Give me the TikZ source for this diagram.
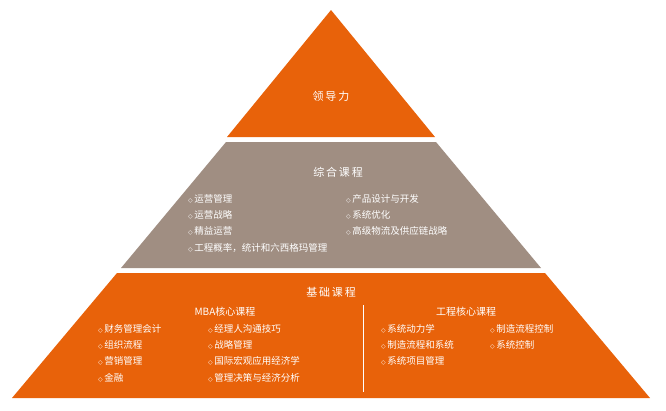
\documentclass[tikz,border=0pt]{standalone}
\usepackage{fontspec}
\setmainfont{Noto Sans CJK SC}
\newfontfamily\djvfont{DejaVu Sans}
\definecolor{org}{HTML}{E8620A}
\definecolor{gry}{HTML}{A08E82}
\newcommand{\dm}{{\djvfont\fontsize{6}{6}\selectfont ◇}\,}
\begin{document}
\begin{tikzpicture}[x=1pt,y=-1pt,
  lst/.style={anchor=north west,align=left,text=white,font=\fontsize{9.5}{16.3}\selectfont,inner sep=0pt},
  ttl/.style={text=white,font=\fontsize{11}{13}\selectfont},
  sub/.style={text=white,font=\fontsize{10}{12}\selectfont}]
\useasboundingbox (0,0) rectangle (666,410);
\fill[org] (331,10) -- (435,137) -- (227,137) -- cycle;
\fill[gry] (226,142) -- (436,142) -- (541,268) -- (121,268) -- cycle;
\fill[org] (117,273) -- (545,273) -- (650,398) -- (12,398) -- cycle;
\node[ttl] (lead) at (331,96) {领\,导\,力};
\node[ttl] (zh) at (338,172) {综\,合\,课\,程};
\node[lst] (zl) at (188,194) {\dm 运营管理\\\dm 运营战略\\\dm 精益运营\\\dm 工程概率，统计和六西格玛管理};
\node[lst] (zr) at (346,194) {\dm 产品设计与开发\\\dm 系统优化\\\dm 高级物流及供应链战略};
\node[ttl] (jc) at (331,292) {基\,础\,课\,程};
\node[sub] (mba) at (225,312) {MBA核心课程};
\node[sub] (gc) at (466,312) {工程核心课程};
\node[lst] (m1) at (98,324) {\dm 财务管理会计\\\dm 组织流程\\\dm 营销管理\\\dm 金融};
\node[lst] (m2) at (208,324) {\dm 经理人沟通技巧\\\dm 战略管理\\\dm 国际宏观应用经济学\\\dm 管理决策与经济分析};
\node[lst] (g1) at (381,324) {\dm 系统动力学\\\dm 制造流程和系统\\\dm 系统项目管理};
\node[lst] (g2) at (490,324) {\dm 制造流程控制\\\dm 系统控制};
\coordinate (d1) at (363,305);
\coordinate (d2) at (363,392);
\draw[white,line width=0.8pt] (d1) -- (d2);
\end{tikzpicture}
\end{document}
